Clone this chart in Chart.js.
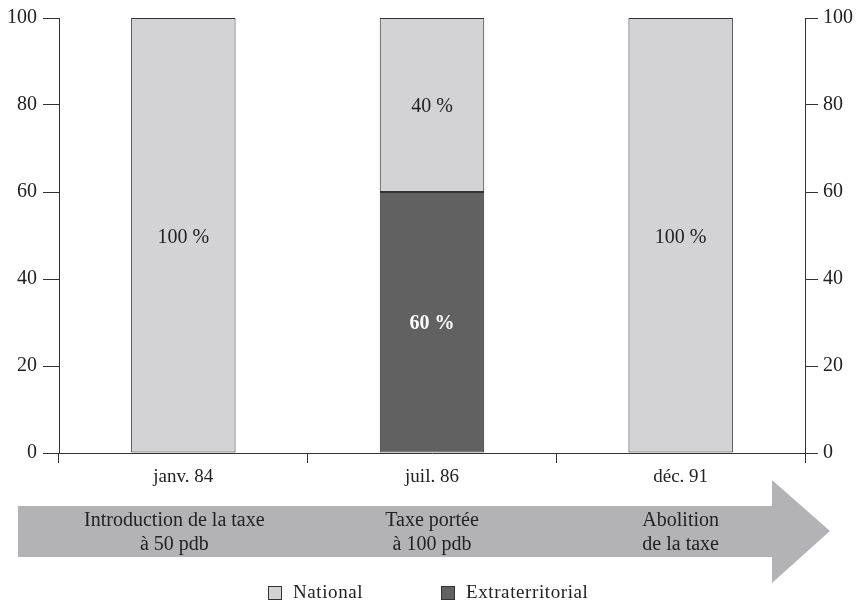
<!DOCTYPE html>
<html>
<head>
<meta charset="utf-8">
<script src="https://cdn.jsdelivr.net/npm/chart.js@4.4.0/dist/chart.umd.min.js"></script>
<style>
  html, body { margin: 0; padding: 0; background: #fff; }
  #wrap { width: 860px; height: 603px; }
</style>
</head>
<body>
<div id="wrap"><canvas id="myChart" width="860" height="603"></canvas></div>
<script>
// catégories et valeurs (en %)
const categories = ["janv. 84", "juil. 86", "déc. 91"];
const national = [100, 40, 100];
const extraterritorial = [0, 60, 0];
const yTicks = [0, 20, 40, 60, 80, 100];
// textes de la flèche sous chaque date
const arrowTexts = [
  ["Introduction de la taxe", "à 50 pdb"],
  ["Taxe portée", "à 100 pdb"],
  ["Abolition", "de la taxe"]
];

const FONT = "'Liberation Serif', 'Times New Roman', serif";
const LIGHT = "#d3d3d5";
const DARK = "#616162";
const LINE = "#333333";

// étiquettes dans les barres + flèche + légende
const extras = {
  id: "extras",
  afterDatasetsDraw(chart) {
    const ctx = chart.ctx;
    ctx.save();
    ctx.textAlign = "center";
    ctx.textBaseline = "middle";
    chart.data.datasets.forEach(function(ds, i){
      const meta = chart.getDatasetMeta(i);
      meta.data.forEach(function(bar, j){
        const v = ds.data[j];
        if (!v) return;
        const p = bar.getCenterPoint();
        ctx.font = (ds.label == "Extraterritorial" ? "bold " : "") + "20px " + FONT;
        ctx.fillStyle = ds.label == "Extraterritorial" ? "#ffffff" : "#222222";
        ctx.fillText(v + " %", p.x, p.y + 2);
      });
    });
    ctx.restore();
  },
  afterDraw(chart) {
    const ctx = chart.ctx;
    const x = chart.scales.x;
    ctx.save();
    // la flèche
    ctx.fillStyle = "#b3b3b5";
    ctx.beginPath();
    ctx.moveTo(18, 506);
    ctx.lineTo(772, 506);
    ctx.lineTo(772, 480);
    ctx.lineTo(830, 531);
    ctx.lineTo(772, 583);
    ctx.lineTo(772, 557);
    ctx.lineTo(18, 557);
    ctx.closePath();
    ctx.fill();

    ctx.fillStyle = "#222222";
    ctx.font = "20px " + FONT;
    ctx.textAlign = "center";
    ctx.textBaseline = "middle";
    arrowTexts.forEach(function(lines, i){
      let cx = x.getPixelForValue(i);
      if (i == 0) cx = cx - 9;
      lines.forEach(function(t, k){
        ctx.fillText(t, cx, 521 + k * 24);
      });
    });

    // légende
    const items = [
      {label: "National", color: LIGHT, x: 268},
      {label: "Extraterritorial", color: DARK, x: 441}
    ];
    ctx.textAlign = "left";
    ctx.font = "19px " + FONT;
    ctx.letterSpacing = "0.6px";
    items.forEach(function(it){
      ctx.fillStyle = it.color;
      ctx.fillRect(it.x + 0.5, 586.5, 13, 13);
      ctx.strokeStyle = LINE;
      ctx.lineWidth = 1;
      ctx.strokeRect(it.x + 0.5, 586.5, 13, 13);
      ctx.fillStyle = "#222222";
      ctx.fillText(it.label, it.x + 25, 593);
    });
    ctx.restore();
  }
};

const ctx = document.getElementById("myChart").getContext("2d");
const myChart = new Chart(ctx, {
  type: "bar",
  data: {
    labels: categories,
    datasets: [
      {
        label: "Extraterritorial",
        data: extraterritorial,
        backgroundColor: DARK,
        borderColor: LINE,
        borderWidth: 1,
        borderSkipped: false,
        categoryPercentage: 1,
        barPercentage: 0.42
      },
      {
        label: "National",
        data: national,
        backgroundColor: LIGHT,
        borderColor: LINE,
        borderWidth: 1,
        borderSkipped: false,
        categoryPercentage: 1,
        barPercentage: 0.42
      }
    ]
  },
  plugins: [extras],
  options: {
    responsive: false,
    animation: false,
    layout: { padding: { top: 18, left: 0, right: 0, bottom: 0 } },
    plugins: {
      legend: { display: false },
      tooltip: { enabled: false }
    },
    scales: {
      x: {
        stacked: true,
        grid: { offset: true, drawOnChartArea: false, tickLength: 10, color: LINE },
        border: { display: true, color: LINE },
        ticks: { color: "#222", font: { family: FONT, size: 19 }, padding: 3 },
        afterFit: function(s){ s.height = 150; }
      },
      y: {
        stacked: true,
        position: "left",
        min: 0, max: 100,
        afterBuildTicks: function(s){ s.ticks = yTicks.map(function(v){ return {value: v}; }); },
        grid: { drawOnChartArea: false, tickLength: 16, color: LINE },
        border: { display: true, color: LINE },
        ticks: { color: "#222", font: { family: FONT, size: 20 }, padding: 6 },
        afterFit: function(s){ s.width = 59; }
      },
      y2: {
        position: "right",
        min: 0, max: 100,
        afterBuildTicks: function(s){ s.ticks = yTicks.map(function(v){ return {value: v}; }); },
        grid: { drawOnChartArea: false, tickLength: 13, color: LINE },
        border: { display: true, color: LINE },
        ticks: { color: "#222", font: { family: FONT, size: 20 }, padding: 5 },
        afterFit: function(s){ s.width = 55; }
      }
    }
  }
});
</script>
</body>
</html>
